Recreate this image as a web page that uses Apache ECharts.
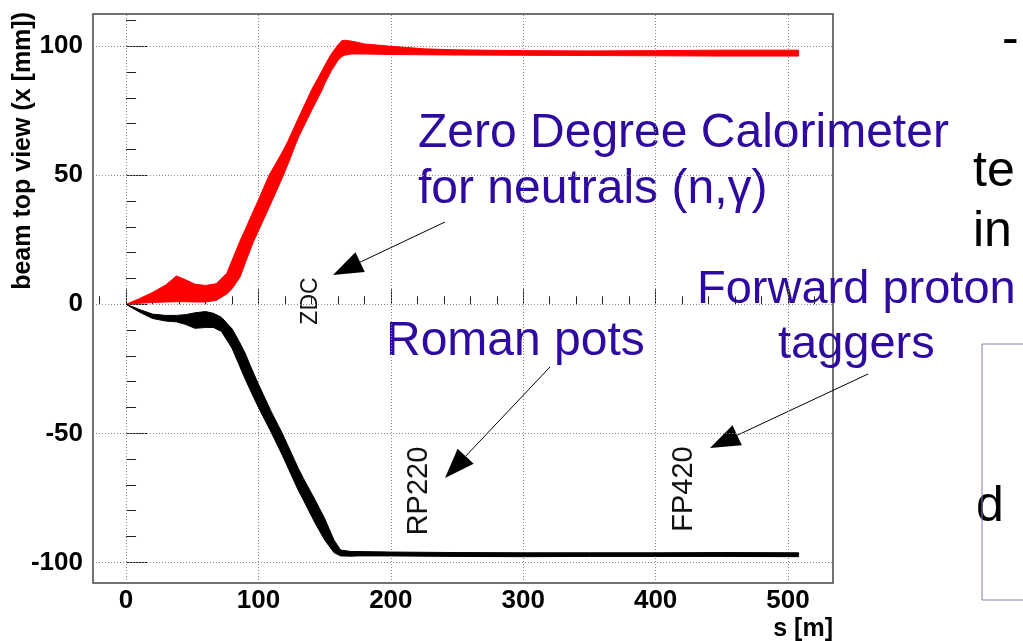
<!DOCTYPE html>
<html>
<head>
<meta charset="utf-8">
<script src="https://cdn.jsdelivr.net/npm/echarts@6/dist/echarts.min.js"></script>
<style>
html, body { margin: 0; padding: 0; background: #fff; }
#chart { width: 1023px; height: 641px; }
</style>
</head>
<body>
<div id="chart"></div>
<script>
// beam positions along s [m] (red = outgoing beam band, black = other beam band)
const redS     = [0, 10, 20, 30, 38, 45, 52, 60, 68, 76, 80, 86, 90, 96, 100, 108, 118, 122, 130, 140, 148, 150, 155, 160, 163, 165, 170, 175, 180, 200, 225, 250, 300, 350, 400, 450, 508];
const redUpper = [0, 2.2, 4.6, 7.5, 11, 9.5, 7.8, 7.3, 8, 12, 17, 24.5, 29, 36, 40.5, 50, 59, 63, 72, 83, 90.5, 92.5, 97, 100.5, 102.2, 102.3, 102, 101.5, 100.9, 100, 99, 98.6, 98.3, 98.2, 98.3, 98.5, 98.5];
const redLower = [0, 0.4, 0.7, 0.9, 1, 1, 0.9, 0.9, 1.5, 4, 6, 10.5, 16, 24, 28.5, 37.5, 49, 54, 64.5, 75, 83, 85.5, 90.5, 94.5, 96, 96.5, 97, 97, 97, 96.8, 96.7, 96.6, 96.5, 96.4, 96.3, 96.2, 96.2];

const blackS     = [0, 10, 20, 30, 38, 45, 52, 60, 66, 72, 80, 85, 90, 94, 100, 110, 118, 122, 130, 134, 143, 150, 157, 162, 170, 175, 200, 250, 300, 350, 400, 450, 508];
const blackUpper = [0, -2, -3.8, -4.3, -4.3, -4, -3.3, -2.8, -3.5, -5, -9.5, -14, -19, -24, -31, -42, -50, -54.5, -63.5, -67.5, -76, -83, -91.3, -95.2, -95.8, -95.8, -96, -96.2, -96.3, -96.3, -96.3, -96.2, -96.3];
const blackLower = [0, -3, -5.5, -6.5, -6.8, -7.8, -9.3, -9, -9, -10.5, -17, -23, -29, -33.5, -40, -50, -58.5, -63, -72, -75.9, -85, -91.3, -96.2, -97.5, -97.6, -97.5, -97.5, -97.7, -97.8, -97.7, -97.7, -97.7, -97.8];

const xMajor = [0, 100, 200, 300, 400, 500];
const xMinor = [-20, 20, 40, 60, 80, 120, 140, 160, 180, 220, 240, 260, 280, 320, 340, 360, 380, 420, 440, 460, 480, 520];
const yMajor = [-100, -50, 0, 50, 100];
const yMinor = [-90, -80, -70, -60, -40, -30, -20, -10, 10, 20, 30, 40, 60, 70, 80, 90, 110];

const chart = echarts.init(document.getElementById('chart'));

const font = "'Liberation Sans', Arial, sans-serif";
const noteColor = '#2e0aa0';

// band between the upper and lower envelope, drawn as one polygon on the axes
function bandSeries(s, lower, upper, color) {
    return {
        type: 'custom', z: 10, silent: true,
        data: [[s[0], lower[0]]],
        renderItem: function (params, api) {
            const pts = [];
            for (let i = 0; i < s.length; i++) pts.push(api.coord([s[i], upper[i]]));
            for (let i = s.length - 1; i >= 0; i--) pts.push(api.coord([s[i], lower[i]]));
            return {
                type: 'polygon',
                shape: { points: pts },
                style: { fill: color, stroke: color, lineWidth: 1, lineJoin: 'round' }
            };
        }
    };
}

function arrow(x1, y1, x2, y2) {
    // line from (x1,y1) to the tip (x2,y2) with a filled head
    const dx = x2 - x1, dy = y2 - y1;
    const len = Math.sqrt(dx * dx + dy * dy);
    const ux = dx / len, uy = dy / len;
    const L = 30, w = 11;
    const bx = x2 - ux * L, by = y2 - uy * L;
    return [
        { type: 'line', shape: { x1: x1, y1: y1, x2: bx, y2: by }, style: { stroke: '#000', lineWidth: 1 } },
        { type: 'polygon', shape: { points: [[x2, y2], [bx - uy * w, by + ux * w], [bx + uy * w, by - ux * w]] }, style: { fill: '#000' } }
    ];
}

function note(text, x, y, size, color) {
    return {
        type: 'text', x: x, y: y,
        style: { text: text, fill: color, font: size + 'px ' + font, align: 'left', verticalAlign: 'middle' }
    };
}

function vlabel(text, x, y, size) {
    return {
        type: 'text', x: x, y: y, rotation: Math.PI / 2,
        style: { text: text, fill: '#111', font: size + 'px ' + font, align: 'center', verticalAlign: 'middle' }
    };
}

const tickLabel = { color: '#000', fontFamily: font, fontWeight: 'bold', fontSize: 26 };

const option = {
    animation: false,
    backgroundColor: '#fff',
    grid: {
        left: 93, top: 14, width: 740, height: 569,
        show: true, borderColor: '#444', borderWidth: 1.5,
        outerBoundsMode: 'none'
    },
    xAxis: [
        {
            type: 'value', min: -25, max: 534,
            axisLine: { show: false },
            axisTick: { inside: true, length: 15, customValues: xMajor, lineStyle: { color: '#222' } },
            axisLabel: Object.assign({ customValues: xMajor, margin: 5 }, tickLabel),
            splitLine: { show: false }
        },
        {
            type: 'value', min: -25, max: 534, position: 'bottom',
            axisLine: { show: false },
            axisTick: { inside: true, length: 8, customValues: xMinor, lineStyle: { color: '#222' } },
            axisLabel: { show: false },
            splitLine: { show: false }
        }
    ],
    yAxis: [
        {
            type: 'value', min: -108, max: 112.5,
            axisLine: { show: false },
            axisTick: { inside: true, length: 21, customValues: yMajor, lineStyle: { color: '#222' } },
            axisLabel: Object.assign({ customValues: yMajor, margin: 10 }, tickLabel),
            splitLine: { show: false }
        },
        {
            type: 'value', min: -108, max: 112.5, position: 'left',
            axisLine: { show: false },
            axisTick: { inside: true, length: 10, customValues: yMinor, lineStyle: { color: '#222' } },
            axisLabel: { show: false },
            splitLine: { show: false }
        }
    ],
    series: [
        {
            // dotted grid
            type: 'line', data: [], z: 1, silent: true,
            markLine: {
                silent: true, z: 1, animation: false,
                symbol: ['none', 'none'],
                label: { show: false },
                lineStyle: { color: '#888', type: [1, 2], width: 1 },
                data: xMajor.map(v => ({ xAxis: v })).concat(yMajor.map(v => ({ yAxis: v })))
            }
        },
        bandSeries(redS, redLower, redUpper, '#ff0000'),
        bandSeries(blackS, blackLower, blackUpper, '#000000')
    ],
    graphic: [
        // axis titles
        {
            type: 'text', x: 23, y: 12, rotation: Math.PI / 2,
            style: { text: 'beam top view (x [mm])', fill: '#000', font: 'bold 25px ' + font, align: 'right', verticalAlign: 'middle' }
        },
        {
            type: 'text', x: 833, y: 629,
            style: { text: 's [m]', fill: '#000', font: 'bold 25px ' + font, align: 'right', verticalAlign: 'middle' }
        },
        vlabel('ZDC', 311, 301, 23),
        vlabel('RP220', 419, 491, 29),
        vlabel('FP420', 684, 489, 29),
        note('Zero Degree Calorimeter', 418, 134, 48, noteColor),
        note('for neutrals (n,\u03b3)', 418, 190, 48, noteColor),
        note('Roman pots', 386, 342, 48, noteColor),
        note('Forward proton', 697, 290, 47, noteColor),
        note('taggers', 778, 345, 47, noteColor),
        // fragments of the slide text to the right
        note('-', 1002, 40, 50, '#000'),
        note('te', 973, 172, 50, '#000'),
        note('in', 973, 232, 50, '#000'),
        note('d', 976, 507, 50, '#000'),
        {
            type: 'rect', shape: { x: 982, y: 344, width: 80, height: 256 },
            style: { fill: 'none', stroke: '#7f7fc0', lineWidth: 1 }
        }
    ].concat(arrow(445, 222, 333, 275))
     .concat(arrow(550, 367, 445, 478))
     .concat(arrow(868, 374, 710, 448))
};

chart.setOption(option);
</script>
</body>
</html>
